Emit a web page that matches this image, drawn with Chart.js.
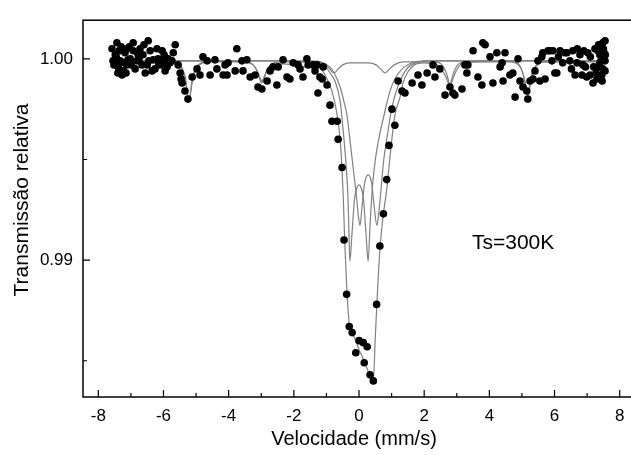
<!DOCTYPE html>
<html>
<head>
<meta charset="utf-8">
<script src="https://cdn.jsdelivr.net/npm/chart.js@4.4.1/dist/chart.umd.min.js"></script>
<style>
html,body{margin:0;padding:0;background:#fff;overflow:hidden;}
#wrap{width:645px;height:455px;}
</style>
</head>
<body>
<div id="wrap"><canvas id="c" width="645" height="455"></canvas></div>
<script>
// ---- measured points (velocity mm/s, relative transmission) ----
const dotV = [-7.43,-7.33,-7.48,-7.39,-7.24,-7.27,-6.93,-6.93,-7.02,-6.81,-7.12,-6.87,-6.47,-6.63,-6.41,-6.32,-6.50,-6.26,-6.04,-6.01,-5.95,-5.89,-5.64,-5.74,-5.55,-5.49,-5.46,-5.43,-5.34,-5.25,-5.12,-4.97,-4.79,-4.88,-4.66,-4.57,-4.42,-4.36,-4.11,-4.17,
 -7.58,-7.55,-7.18,-6.72,-6.17,-6.56,-7.12,-7.52,-7.36,-7.09,-6.78,-6.20,-5.86,-6.66,-6.10,
 -7.45,-7.30,-7.20,-7.05,-6.98,-6.75,-6.60,-6.45,-6.35,-6.15,-5.98,-5.80,-5.70,-7.40,-7.15,
 -4.02,-4.05,-3.80,-3.75,-3.59,-3.44,-3.56,-3.34,-3.19,-3.10,-2.98,-2.82,-2.73,-2.64,-2.48,-2.52,-2.33,-2.21,-2.12,-2.02,-1.87,-1.81,-1.72,-1.60,-1.56,-1.41,-1.35,-1.10,-1.13,-0.98,-1.26,-1.29,-1.20,
 -0.89,-0.83,-0.67,-0.64,-0.52,-0.46,-0.38,-0.30,-0.21,-0.10,0.00,0.13,0.16,0.25,0.34,0.44,0.54,0.64,0.75,0.85,0.92,1.01,1.10,1.20,1.32,1.41,
 1.63,1.81,1.93,2.09,2.27,2.33,2.48,2.64,2.79,2.88,2.94,3.16,3.25,3.31,3.34,3.50,3.65,3.80,3.77,3.87,4.02,4.23,4.48,4.33,4.39,4.88,4.11,4.42,4.63,4.72,4.94,5.03,4.79,5.18,5.15,5.25,5.40,5.49,5.61,5.55,5.71,5.80,5.92,6.01,6.17,6.32,6.47,6.56,6.69,6.78,6.63,6.84,6.99,7.18,7.30,7.02,7.24,7.39,7.48,7.55,7.48,7.33,7.45,7.55,
 6.87,7.09,6.38,6.07,5.86,5.64,5.34,7.55,7.33,7.39,7.52,
 7.50,7.42,7.35,7.20,7.10,6.95,6.70,6.52,6.25,6.12,7.56,7.27,6.90,5.95,7.46];
const dotT = [1.0008,0.9999,1.0002,0.9996,0.9994,0.9992,1.0008,1.0004,1.0000,0.9999,0.9997,0.9995,1.0009,1.0002,1.0004,0.99995,0.9997,0.9995,1.0004,0.9999,0.9994,0.9996,1.0007,0.9999,0.9997,0.9993,0.9990,0.9988,0.9984,0.9980,0.9991,0.9995,1.0001,0.9992,0.9999,0.9992,0.99995,0.9995,0.9997,0.9992,
 1.0005,0.9999,1.0003,1.0005,1.0000,0.9993,1.0005,0.9997,1.0004,0.99995,1.0002,1.0005,1.0000,0.9997,0.9997,
 1.0001,1.0006,0.9998,1.0006,0.9997,1.0000,1.0007,0.9999,0.9994,0.9998,1.0002,0.9998,1.0003,0.9993,0.9993,
 0.9998,0.9992,0.9994,1.0005,0.9999,0.99995,0.9994,0.9991,0.9992,0.9986,0.9985,0.9989,0.9994,0.9996,0.9996,0.9987,0.99995,0.9991,0.9990,0.9998,0.9997,0.9995,0.9991,1.0000,0.9997,0.9997,0.9994,0.9996,0.9990,0.9987,0.9983,0.9997,0.9991,
 0.9977,0.9969,0.9969,0.9960,0.9946,0.9910,0.9883,0.9867,0.9864,0.9854,0.9860,0.9859,0.9849,0.9857,0.9843,0.9840,0.9878,0.9907,0.9923,0.9940,0.9957,0.9975,0.9967,0.9989,0.9984,0.9983,
 0.9988,0.9992,0.9987,0.9993,0.9997,0.9991,0.9995,0.9982,0.9986,0.9983,0.9982,0.9985,0.9997,0.9993,0.9997,1.0004,0.9991,1.0008,0.9987,1.0007,1.0001,1.0003,1.0003,0.9996,0.9998,1.0000,0.9988,0.9989,0.9992,0.9993,0.9989,0.9986,0.9981,0.9980,0.9984,0.9989,0.9994,0.9999,1.0001,0.9989,0.9990,1.0004,0.9999,0.9993,1.0004,1.0003,0.9999,1.0004,0.9998,1.0002,0.9992,0.9992,0.9991,0.9988,0.9990,1.0003,1.0005,1.0002,1.0008,0.9999,0.9995,0.9996,0.9992,1.0009,
 0.9997,0.9992,1.0003,0.9993,1.0004,1.0003,0.9990,0.9994,1.0004,0.9998,1.0003,
 1.0005,0.9999,1.0007,0.9996,1.0001,0.9996,1.0005,0.9995,0.9998,1.0001,1.0002,0.9993,1.0004,1.0004,0.9989];

// ---- fitted curves ----
const fitV = [-7.6,-6.0,-5.7,-5.5,-5.4,-5.32,-5.26,-5.22,-5.18,-5.12,-5.04,-4.94,-4.7,-4.2,-3.5,-3.25,-3.12,-3.04,-2.98,-2.92,-2.84,-2.7,-2.4,-2.0,-1.7,-1.35,-1.04,-0.83,-0.67,-0.58,-0.52,-0.48,-0.44,-0.37,-0.29,-0.22,-0.10,0.00,0.10,0.20,0.30,0.39,0.44,0.50,0.56,0.64,0.74,0.85,0.98,1.10,1.26,1.35,1.50,1.70,2.0,2.4,2.6,2.72,2.79,2.86,2.98,3.2,4.5,4.85,4.98,5.08,5.14,5.18,5.22,5.30,5.42,5.7,7.6];
const fitT = [0.99988,0.99988,0.99985,0.9997,0.99945,0.9990,0.9982,0.99785,0.9982,0.9990,0.99945,0.9997,0.99985,0.99988,0.99985,0.9997,0.9994,0.99895,0.9988,0.99895,0.9994,0.9997,0.99975,0.9997,0.9996,0.9998,0.9992,0.9984,0.9972,0.9960,0.9945,0.9930,0.9910,0.9884,0.9867,0.9864,0.9860,0.98555,0.9852,0.9848,0.9844,0.98405,0.9840,0.9862,0.9882,0.9905,0.9922,0.9935,0.9956,0.9972,0.9981,0.9988,0.99935,0.9997,0.9998,0.9997,0.9993,0.9989,0.9986,0.9989,0.9994,0.9998,0.99988,0.99975,0.9995,0.9990,0.9985,0.9982,0.9985,0.9992,0.9996,0.99985,0.99988];

const compAV = [-7.6,-2.0,-1.3,-1.0,-0.85,-0.74,-0.58,-0.49,-0.40,-0.34,-0.31,-0.28,-0.22,-0.14,-0.05,0.00,0.05,0.14,0.22,0.28,0.34,0.42,0.52,0.64,0.74,0.95,1.10,1.40,2.0,7.6];
const compAT = [0.9999,0.9999,0.9997,0.99955,0.9992,0.9989,0.9979,0.9965,0.9948,0.9932,0.9915,0.98995,0.9912,0.9930,0.99365,0.99374,0.99365,0.9930,0.9912,0.98995,0.9918,0.9938,0.9952,0.9963,0.9970,0.9984,0.9990,0.9996,0.9999,0.9999];

const compBV = [-7.6,-1.5,-0.9,-0.6,-0.45,-0.37,-0.28,-0.18,-0.08,-0.02,0.03,0.09,0.17,0.28,0.39,0.47,0.55,0.61,0.67,0.76,0.87,1.0,1.26,1.6,2.2,7.6];
const compBT = [0.9999,0.9999,0.9996,0.9987,0.9978,0.9972,0.9960,0.9946,0.9932,0.9922,0.99172,0.9926,0.9938,0.99424,0.9938,0.9926,0.99172,0.9924,0.9934,0.9950,0.9962,0.9975,0.9989,0.9997,0.9999,0.9999];

const sextV = [-7.6,-5.8,-5.55,-5.42,-5.32,-5.26,-5.22,-5.18,-5.12,-5.02,-4.89,-4.6,-3.5,-3.25,-3.1,-3.02,-2.98,-2.94,-2.86,-2.71,-2.4,-1.3,-1.05,-0.9,-0.82,-0.77,-0.72,-0.64,-0.5,-0.3,0.3,0.52,0.66,0.75,0.80,0.85,0.94,1.08,1.35,2.3,2.55,2.68,2.75,2.79,2.83,2.90,3.03,3.3,4.7,4.92,5.04,5.12,5.18,5.24,5.32,5.44,5.7,7.6];
const sextT = [0.99985,0.99985,0.9997,0.9994,0.9988,0.9982,0.99795,0.9982,0.9988,0.9994,0.9997,0.99985,0.99985,0.9997,0.9993,0.9990,0.99885,0.9990,0.9993,0.9997,0.99985,0.99985,0.9997,0.9995,0.99935,0.9993,0.99935,0.9995,0.9997,0.9998,0.9998,0.9997,0.9995,0.99935,0.9993,0.99935,0.9995,0.9997,0.99985,0.99985,0.9997,0.9993,0.9989,0.99865,0.9989,0.9993,0.9997,0.99985,0.99985,0.9997,0.9992,0.9986,0.9982,0.9986,0.9992,0.9997,0.99985,0.99985];

const xTicks = [-8,-6,-4,-2,0,2,4,6,8];
const xMinor = [-7,-5,-3,-1,1,3,5,7];
const yTicks = [0.99,1.00];
const yMinor = [0.985,0.995];

const pts = (V,T) => V.map((v,i)=>({x:v,y:T[i]}));
const FONT = "'Liberation Sans', Arial, sans-serif";
const lineStyle = {type:'line',pointRadius:0,borderColor:'#808080',borderWidth:1.2,fill:false,cubicInterpolationMode:'monotone',order:2};

const decor = {
  id:'decor',
  afterDraw(chart){
    const ctx = chart.ctx, a = chart.chartArea, xs = chart.scales.x, ys = chart.scales.y;
    ctx.save();
    ctx.strokeStyle = '#000'; ctx.lineWidth = 1.5;
    ctx.strokeRect(a.left, a.top, a.right - a.left, a.bottom - a.top);
    ctx.lineWidth = 1.2;
    ctx.beginPath();
    xTicks.forEach(v=>{const p=xs.getPixelForValue(v); ctx.moveTo(p,a.bottom); ctx.lineTo(p,a.bottom-7);});
    xMinor.forEach(v=>{const p=xs.getPixelForValue(v); ctx.moveTo(p,a.bottom); ctx.lineTo(p,a.bottom-4);});
    yTicks.forEach(v=>{const p=ys.getPixelForValue(v); ctx.moveTo(a.left,p); ctx.lineTo(a.left+7,p);});
    yMinor.forEach(v=>{const p=ys.getPixelForValue(v); ctx.moveTo(a.left,p); ctx.lineTo(a.left+4,p);});
    ctx.stroke();
    ctx.fillStyle = '#000';
    ctx.textBaseline = 'middle';
    ctx.font = '20px ' + FONT;
    ctx.textAlign = 'center';
    ctx.fillText('Velocidade (mm/s)', 354, 439);
    ctx.font = '21px ' + FONT;
    ctx.textAlign = 'left';
    ctx.fillText('Ts=300K', 472, 243);
    ctx.textAlign = 'center';
    ctx.translate(22, 200); ctx.rotate(-Math.PI/2);
    ctx.font = '21px ' + FONT;
    ctx.fillText('Transmissão relativa', 0, 0);
    ctx.restore();
  }
};

new Chart(document.getElementById('c'), {
  data:{
    datasets:[
      {type:'scatter',data:pts(dotV,dotT),pointRadius:3.8,pointBackgroundColor:'#000',pointBorderWidth:0,pointBorderColor:'#000',order:1},
      Object.assign({data:pts(fitV,fitT)},lineStyle),
      Object.assign({data:pts(compAV,compAT)},lineStyle),
      Object.assign({data:pts(compBV,compBT)},lineStyle),
      Object.assign({data:pts(sextV,sextT)},lineStyle)
    ]
  },
  options:{
    responsive:false,animation:false,
    layout:{padding:{top:17,right:9,left:0,bottom:0}},
    plugins:{legend:{display:false},tooltip:{enabled:false}},
    scales:{
      x:{type:'linear',min:-8.47,max:8.5,
        grid:{display:false,drawTicks:false},border:{display:false},
        afterBuildTicks:s=>{s.ticks = xTicks.map(v=>({value:v}));},
        afterFit:s=>{s.height = 58;},
        ticks:{padding:9,color:'#000',font:{family:FONT,size:17},callback:v=>String(v),maxRotation:0,autoSkip:false}},
      y:{type:'linear',min:0.9832,max:1.00192,
        grid:{display:false,drawTicks:false},border:{display:false},
        afterBuildTicks:s=>{s.ticks = yTicks.map(v=>({value:v}));},
        afterFit:s=>{s.width = 83;},
        ticks:{padding:10,color:'#000',font:{family:FONT,size:17},callback:v=>Number(v).toFixed(2),autoSkip:false}}
    }
  },
  plugins:[decor]
});
</script>
</body>
</html>
